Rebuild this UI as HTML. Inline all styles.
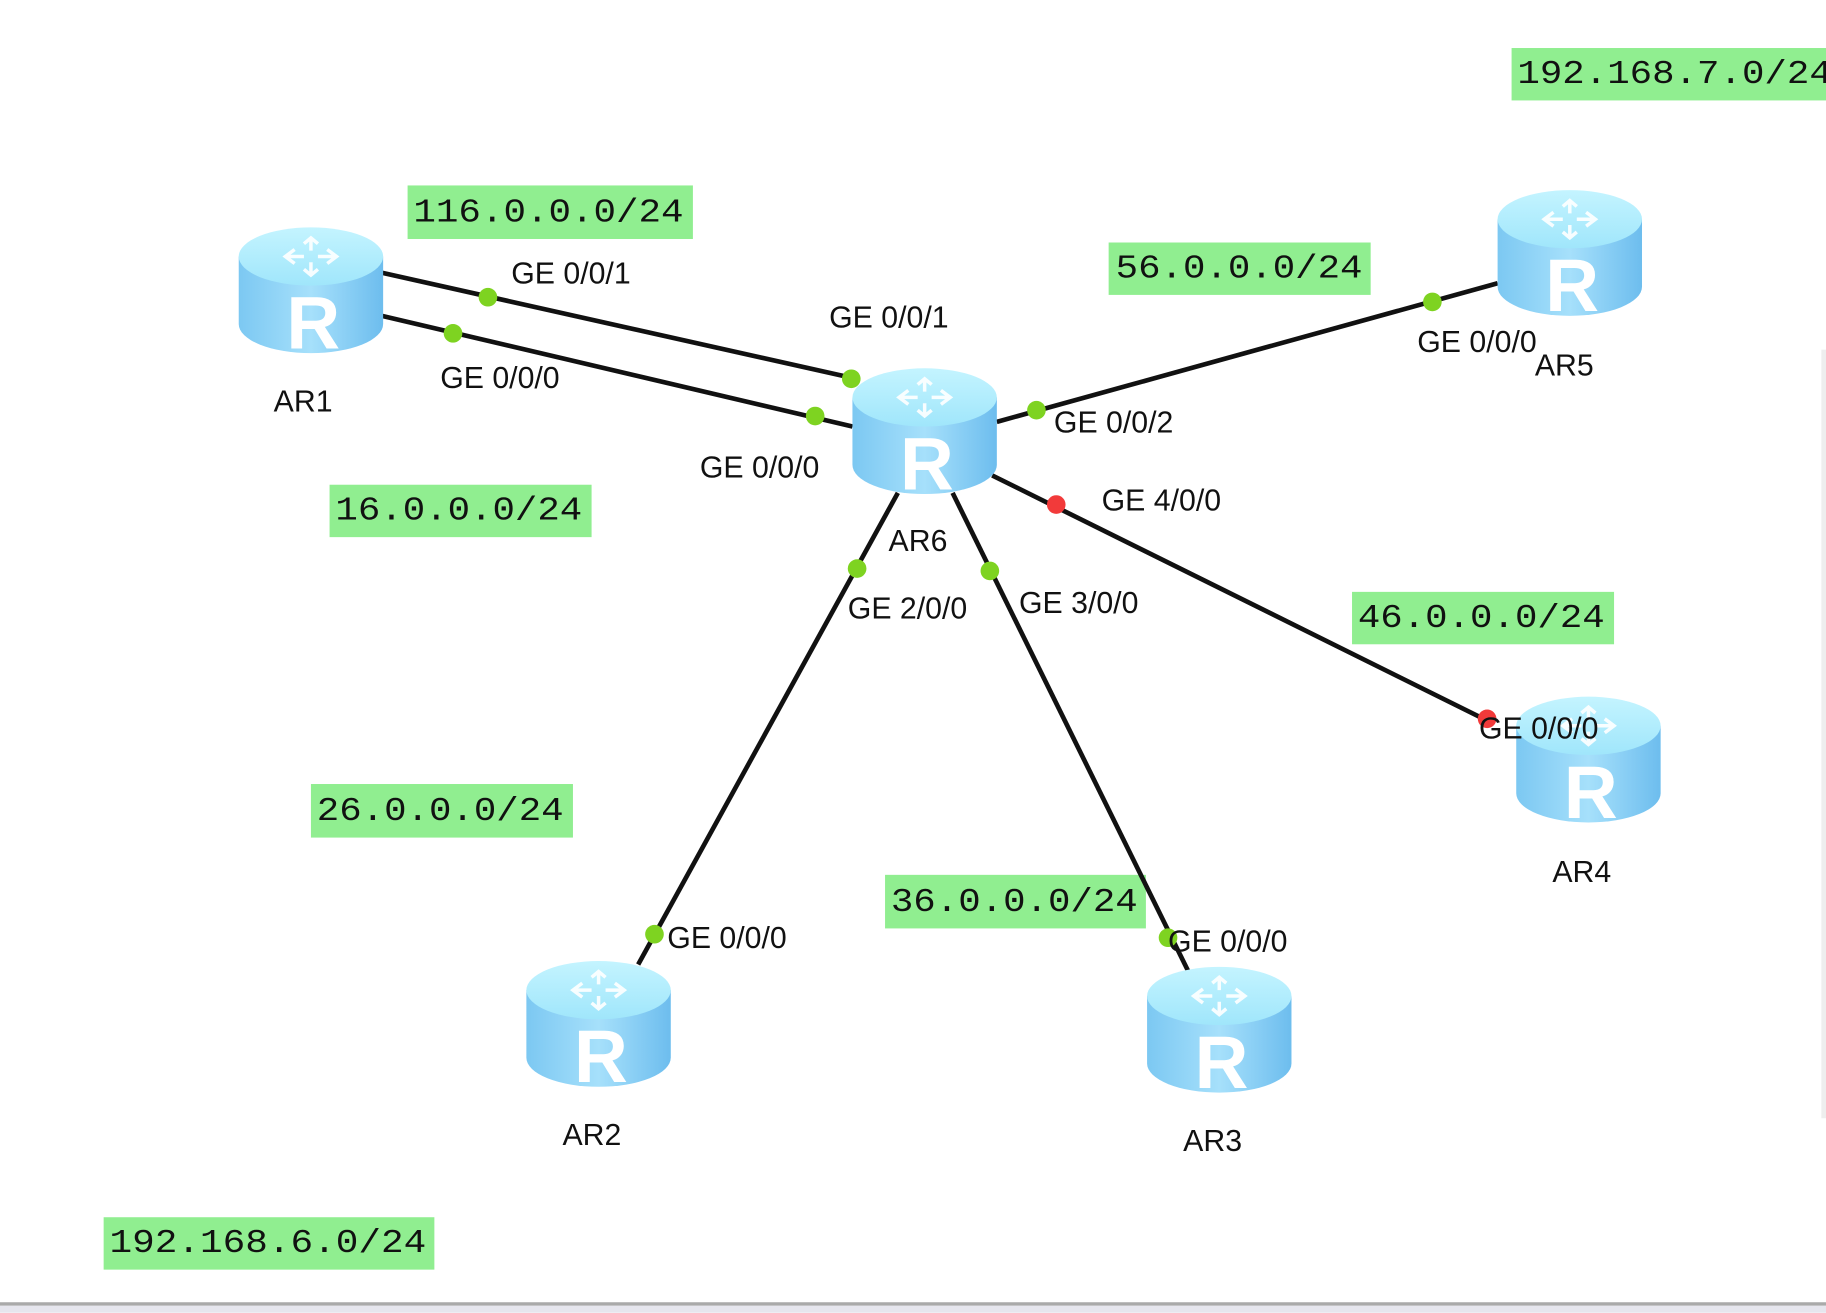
<!DOCTYPE html>
<html><head><meta charset="utf-8"><style>
html,body{margin:0;padding:0;background:#fff;width:1826px;height:1313px;overflow:hidden}
svg{display:block}
.l{font-family:"Liberation Sans",Arial,sans-serif;font-size:26px;fill:#111}
.m{font-family:"Liberation Mono",monospace;font-size:29px;fill:#111}
</style></head><body>
<svg width="1826" height="1313" viewBox="0 0 1568 1127" xmlns="http://www.w3.org/2000/svg">
<defs>
<linearGradient id="body" x1="0" x2="1" y1="0" y2="0">
<stop offset="0" stop-color="#7cc8f2"/><stop offset="0.5" stop-color="#a6e0fb"/><stop offset="1" stop-color="#6dbdee"/>
</linearGradient>
<linearGradient id="top" x1="0" x2="0" y1="0" y2="1">
<stop offset="0" stop-color="#c4f4ff"/><stop offset="1" stop-color="#a0e6fb"/>
</linearGradient>
<g id="r">
<path d="M0 25 L0 83 A62 25 0 0 0 124 83 L124 25 Z" fill="url(#body)"/>
<ellipse cx="62" cy="25" rx="62" ry="25" fill="url(#top)"/>
<g stroke="#fff" stroke-width="3" fill="none" opacity="0.9">
<path d="M40 25 h16 M48 19 l-8 6 l8 6 M84 25 h-16 M76 19 l8 6 l-8 6 M62 10 v10 M56 14 l6 -5 l6 5 M62 40 v-10 M56 36 l6 5 l6 -5"/>
</g>
<text x="64" y="104" text-anchor="middle" font-family="Liberation Sans,Arial,sans-serif" font-size="64" font-weight="bold" fill="#fff">R</text>
</g>
</defs>
<rect x="0" y="1118" width="1568" height="3" fill="#aaa"/>
<rect x="0" y="1121" width="1568" height="6" fill="#e6e6ee"/>
<rect x="1564" y="300" width="4" height="660" fill="#eee"/>
<g fill="#90ee90">
<rect x="350" y="159" width="245" height="46"/>
<rect x="952" y="208" width="225" height="45"/>
<rect x="1298" y="41" width="270" height="45"/>
<rect x="283" y="416" width="225" height="45"/>
<rect x="1161" y="508" width="225" height="45"/>
<rect x="267" y="673" width="225" height="46"/>
<rect x="760" y="751" width="224" height="46"/>
<rect x="89" y="1045" width="284" height="45"/>
</g>
<g class="m">
<text x="355" y="190" textLength="232" lengthAdjust="spacingAndGlyphs">116.0.0.0/24</text>
<text x="958" y="238" textLength="212" lengthAdjust="spacingAndGlyphs">56.0.0.0/24</text>
<text x="1303" y="71" textLength="270" lengthAdjust="spacingAndGlyphs">192.168.7.0/24</text>
<text x="288" y="446" textLength="212" lengthAdjust="spacingAndGlyphs">16.0.0.0/24</text>
<text x="1166" y="538" textLength="212" lengthAdjust="spacingAndGlyphs">46.0.0.0/24</text>
<text x="272" y="704" textLength="212" lengthAdjust="spacingAndGlyphs">26.0.0.0/24</text>
<text x="765" y="782" textLength="212" lengthAdjust="spacingAndGlyphs">36.0.0.0/24</text>
<text x="94" y="1075" textLength="272" lengthAdjust="spacingAndGlyphs">192.168.6.0/24</text>
</g>
<g stroke="#111" stroke-width="4">
<line x1="328" y1="234" x2="735" y2="325"/>
<line x1="328" y1="271" x2="732" y2="366"/>
<line x1="856" y1="362" x2="1286" y2="243"/>
<line x1="852" y1="408" x2="1280" y2="620"/>
<line x1="771" y1="423" x2="548" y2="828"/>
<line x1="818" y1="423" x2="1020" y2="833"/>
</g>
<use href="#r" x="205" y="195"/>
<use href="#r" x="732" y="316"/>
<use href="#r" x="1286" y="163"/>
<use href="#r" x="1302" y="598"/>
<use href="#r" x="452" y="825"/>
<use href="#r" x="985" y="830"/>
<g fill="#7ed321">
<circle cx="419" cy="255" r="8"/><circle cx="731" cy="325" r="8"/>
<circle cx="389" cy="286" r="8"/><circle cx="700" cy="357" r="8"/>
<circle cx="890" cy="352" r="8"/><circle cx="1230" cy="259" r="8"/>
<circle cx="736" cy="488" r="8"/><circle cx="562" cy="802" r="8"/>
<circle cx="850" cy="490" r="8"/><circle cx="1003" cy="805" r="8"/>
</g>
<g fill="#f23a3a"><circle cx="907" cy="433" r="8"/><circle cx="1277" cy="617" r="8"/></g>
<g class="l">
<text x="439" y="243">GE 0/0/1</text>
<text x="712" y="281">GE 0/0/1</text>
<text x="378" y="333">GE 0/0/0</text>
<text x="601" y="410">GE 0/0/0</text>
<text x="235" y="353">AR1</text>
<text x="905" y="371">GE 0/0/2</text>
<text x="1217" y="302">GE 0/0/0</text>
<text x="1318" y="322">AR5</text>
<text x="946" y="438">GE 4/0/0</text>
<text x="763" y="473">AR6</text>
<text x="728" y="531">GE 2/0/0</text>
<text x="875" y="526">GE 3/0/0</text>
<text x="1270" y="634">GE 0/0/0</text>
<text x="1333" y="757">AR4</text>
<text x="573" y="814">GE 0/0/0</text>
<text x="1003" y="817">GE 0/0/0</text>
<text x="483" y="983">AR2</text>
<text x="1016" y="988">AR3</text>
</g>
</svg>
</body></html>
